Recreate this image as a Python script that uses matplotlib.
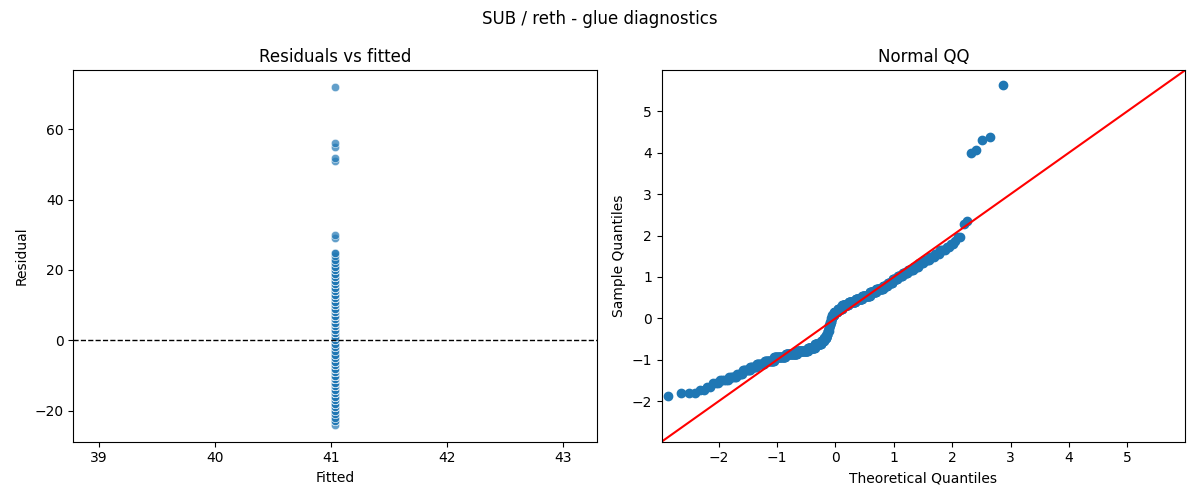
import numpy as np
import matplotlib
matplotlib.use("Agg")
import matplotlib.pyplot as plt
import seaborn as sns
from statistics import NormalDist

# glue measurements (integer values) and how often each occurs
glue_values = list(range(17, 67))
glue_counts = [1, 3, 2, 2, 3, 5, 6, 5, 8, 8,
               12, 17, 25, 29, 31, 22, 21, 9, 8, 4,
               4, 2, 3, 3, 4, 7, 11, 16, 21, 23,
               21, 22, 18, 17, 11, 11, 10, 9, 9, 8,
               7, 6, 6, 4, 4, 4, 2, 2, 1, 2]
glue_outliers = [70, 71, 92, 93, 96, 97, 113]

title = "SUB / reth - glue diagnostics"

# intercept-only model: fitted value is the mean
y = np.concatenate([np.repeat(glue_values, glue_counts), glue_outliers]).astype(float)
fitted = np.full_like(y, y.mean())
resid = y - fitted

# qq: standardised residuals against normal quantiles, positions i/(n+1)
n = len(resid)
sample_q = np.sort((resid - resid.mean()) / resid.std())
theo_q = np.array([NormalDist().inv_cdf(i / (n + 1)) for i in range(1, n + 1)])

fig, (ax1, ax2) = plt.subplots(1, 2, figsize=(12, 5), dpi=100)

sns.scatterplot(x=fitted, y=resid, ax=ax1, alpha=0.7)
ax1.axhline(0, color="black", linestyle="--", linewidth=1)
ax1.set_title("Residuals vs fitted")
ax1.set_xlabel("Fitted")
ax1.set_ylabel("Residual")

ax2.plot(theo_q, sample_q, "o", color="C0", markersize=6)
lims = [-2.98, 5.99]
ax2.plot(lims, lims, "r-", linewidth=1.5)
ax2.set_xlim(lims)
ax2.set_ylim(lims)
ax2.set_title("Normal QQ")
ax2.set_xlabel("Theoretical Quantiles")
ax2.set_ylabel("Sample Quantiles")

fig.suptitle(title)
fig.tight_layout()
fig.savefig("out.png")
